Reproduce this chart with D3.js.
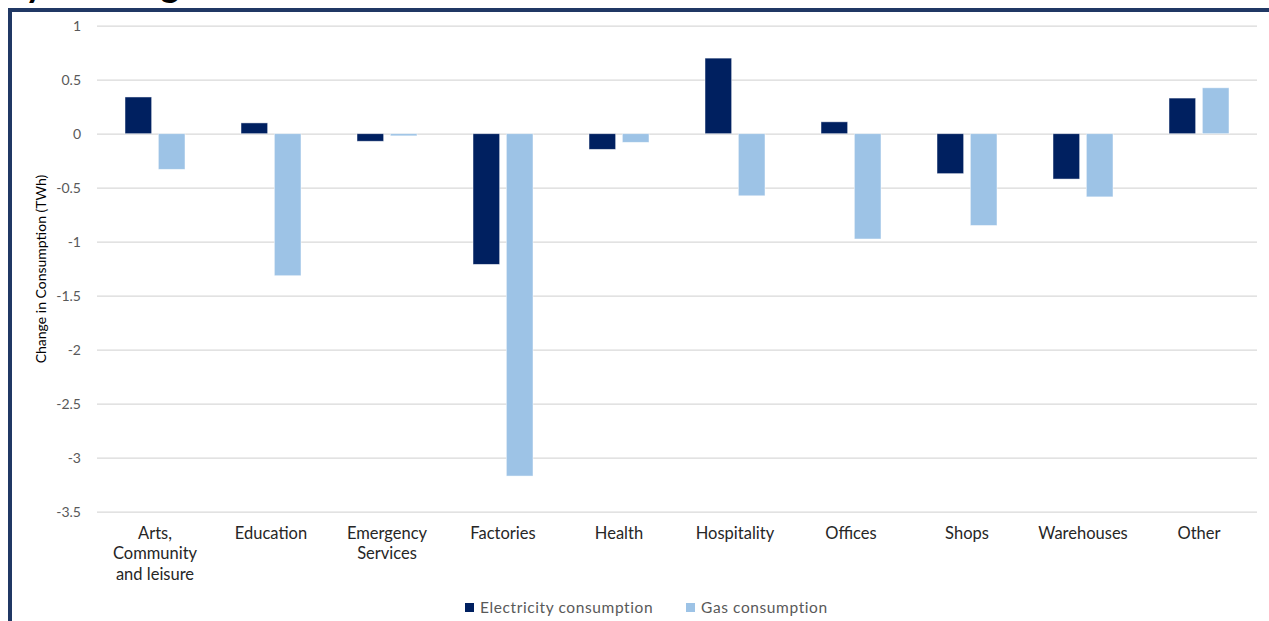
<!DOCTYPE html>
<html>
<head>
<meta charset="utf-8">
<script src="https://cdn.jsdelivr.net/npm/d3@7"></script>
<style>
  html, body { margin: 0; padding: 0; background: #fff; }
  svg { display: block; }
</style>
</head>
<body>
<svg id="chart" width="1269" height="621"></svg>
<script>
// Sector categories (multi-line labels split on "|")
const categories = [
  "Arts,|Community|and leisure", "Education", "Emergency|Services", "Factories",
  "Health", "Hospitality", "Offices", "Shops", "Warehouses", "Other"
];
// Change in consumption, TWh
const electricity = [0.34, 0.10, -0.07, -1.21, -0.145, 0.70, 0.11, -0.37, -0.42, 0.33];
const gas = [-0.33, -1.315, -0.02, -3.17, -0.08, -0.575, -0.975, -0.85, -0.585, 0.425];
const seriesNames = ["Electricity consumption", "Gas consumption"];
const seriesColors = ["#002060", "#9DC3E6"];
const yTicks = [1, 0.5, 0, -0.5, -1, -1.5, -2, -2.5, -3, -3.5];

const svg = d3.select("#chart");
const font = "Lato, 'Open Sans', sans-serif";

// Outer frame (left and top edges visible)
svg.append("rect")
  .attr("x", 10).attr("y", 10)
  .attr("width", 1300).attr("height", 700)
  .attr("fill", "none")
  .attr("stroke", "#203864")
  .attr("stroke-width", 4);

// Heading above the frame
svg.append("text")
  .attr("x", 5).attr("y", -3)
  .attr("font-family", "Lato, sans-serif")
  .attr("font-weight", "bold")
  .attr("font-size", 36)
  .attr("fill", "#000")
  .text("by building");

const plot = { left: 97, right: 1257, top: 25.7, bottom: 511.7 };

const y = d3.scaleLinear().domain([1, -3.5]).range([plot.top, plot.bottom]);
const x0 = d3.scaleBand().domain(d3.range(categories.length)).range([plot.left, plot.right]);
const x1 = d3.scaleBand().domain([0, 1]).range([0, x0.bandwidth()])
  .paddingInner(0.2).paddingOuter(0.84);

// Gridlines and y tick labels
const yAxis = d3.axisLeft(y).tickValues(yTicks)
  .tickSize(-(plot.right - plot.left))
  .tickPadding(16)
  .tickFormat(d => String(d));
const gy = svg.append("g")
  .attr("transform", `translate(${plot.left},0)`)
  .call(yAxis);
gy.select(".domain").remove();
gy.selectAll(".tick line").attr("stroke", "#d9d9d9").attr("stroke-width", 1.3);
gy.selectAll(".tick text")
  .attr("font-family", font)
  .attr("font-size", 14)
  .attr("fill", "#595959");

// Bars
const data = categories.map((c, i) => ({ i, vals: [electricity[i], gas[i]] }));
const groups = svg.append("g").selectAll("g")
  .data(data).join("g")
  .attr("transform", d => `translate(${x0(d.i)},0)`);
groups.selectAll("rect")
  .data(d => d.vals.map((v, s) => ({ v, s })))
  .join("rect")
  .attr("x", d => x1(d.s))
  .attr("width", x1.bandwidth())
  .attr("y", d => Math.min(y(d.v), y(0)))
  .attr("height", d => Math.abs(y(d.v) - y(0)))
  .attr("fill", d => seriesColors[d.s])
  .attr("stroke", "#ffffff")
  .attr("stroke-opacity", 0.6)
  .attr("stroke-width", 0.8);

// Category labels
const xAxis = d3.axisBottom(x0).tickSize(0).tickFormat("");
const gx = svg.append("g").attr("transform", `translate(0,${plot.bottom})`).call(xAxis);
gx.select(".domain").remove();
gx.selectAll(".tick").each(function (d) {
  const lines = categories[d].split("|");
  const t = d3.select(this).append("text")
    .attr("text-anchor", "middle")
    .attr("font-family", font)
    .attr("font-size", 16.5)
    .attr("fill", "#262626");
  lines.forEach((ln, k) => {
    t.append("tspan").attr("x", 0).attr("y", 27 + k * 20.5).text(ln);
  });
});

// Y axis title
svg.append("text")
  .attr("transform", `translate(46,269) rotate(-90)`)
  .attr("text-anchor", "middle")
  .attr("font-family", font)
  .attr("font-size", 14)
  .attr("fill", "#000")
  .text("Change in Consumption (TWh)");

// Legend
const legendX = [465, 686];
const legend = svg.append("g").selectAll("g")
  .data(seriesNames).join("g")
  .attr("transform", (d, i) => `translate(${legendX[i]},603)`);
legend.append("rect").attr("width", 9).attr("height", 9)
  .attr("fill", (d, i) => seriesColors[i]);
legend.append("text")
  .attr("x", 15).attr("y", 9.5)
  .attr("font-family", font)
  .attr("font-size", 15.5)
  .attr("letter-spacing", 0.6)
  .attr("fill", "#595959")
  .text(d => d);
</script>
</body>
</html>
